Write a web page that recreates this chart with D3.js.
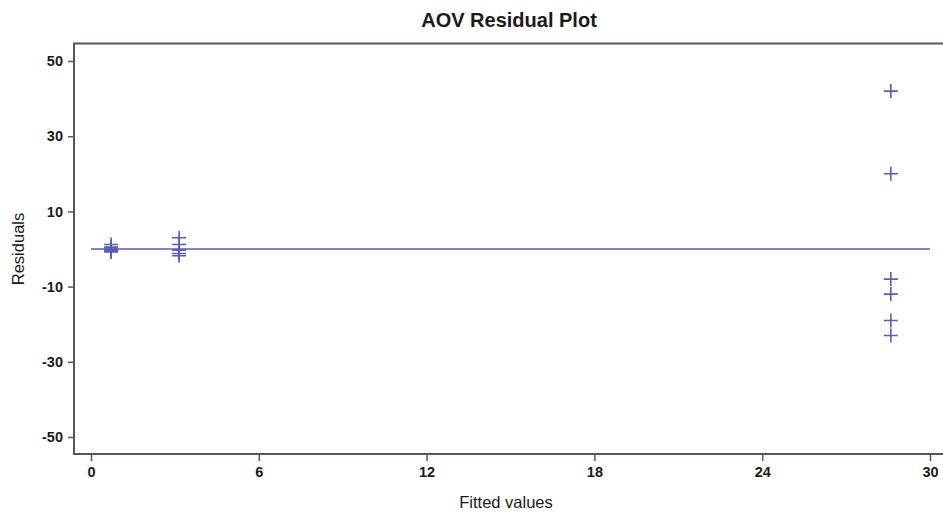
<!DOCTYPE html>
<html>
<head>
<meta charset="utf-8">
<script src="https://cdn.jsdelivr.net/npm/d3@7"></script>
<style>
  html, body { margin: 0; padding: 0; background: #fff; }
  svg { display: block; font-family: "Liberation Sans", Arial, sans-serif; }
</style>
</head>
<body>
<svg id="chart" width="943" height="516"></svg>
<script>
// Residuals from a one-way ANOVA, grouped by fitted (group mean) value
const fittedValues = [0.72, 3.15, 28.6];
const groupResiduals = [
  [1.2, 0.5, 0.0, -0.3, -0.6, -0.8],
  [3.0, 1.2, -0.3, -1.2, -1.8],
  [42, 20, -8, -12, -19, -23]
];
const xTicks = [0, 6, 12, 18, 24, 30];
const yTicks = [-50, -30, -10, 10, 30, 50];

const points = [];
fittedValues.forEach((f, i) => groupResiduals[i].forEach(r => points.push({ fitted: f, resid: r })));

const svg = d3.select("#chart");
const W = 943;
const frame = { left: 74, top: 43.5, bottom: 454 };

const x = d3.scaleLinear().domain([0, 30]).range([91, 930]);
const y = d3.scaleLinear().domain([-50, 50]).range([437, 61]);

const axisColor = "#5a5552";
const markColor = "#5b5bb0";
const textColor = "#1a1a1a";

// Title
svg.append("text")
  .attr("x", 509).attr("y", 27)
  .attr("text-anchor", "middle")
  .attr("font-size", 20).attr("font-weight", "bold")
  .attr("fill", textColor)
  .text("AOV Residual Plot");

// Frame: top, left, bottom edges
svg.append("path")
  .attr("d", `M${W},${frame.top}H${frame.left}V${frame.bottom}H${W}`)
  .attr("fill", "none")
  .attr("stroke", axisColor)
  .attr("stroke-width", 2);

// Plain hyphen for negative numbers
const fmt = d => String(d);

// Y axis
const yAxis = svg.append("g")
  .attr("transform", `translate(${frame.left},0)`)
  .call(d3.axisLeft(y).tickValues(yTicks).tickFormat(fmt).tickSize(6).tickPadding(5));
// X axis
const xAxis = svg.append("g")
  .attr("transform", `translate(0,${frame.bottom})`)
  .call(d3.axisBottom(x).tickValues(xTicks).tickFormat(fmt).tickSize(7).tickPadding(6));

[xAxis, yAxis].forEach(g => {
  g.select(".domain").remove();
  g.selectAll(".tick line").attr("stroke", axisColor).attr("stroke-width", 1.5);
  g.selectAll(".tick text")
    .attr("fill", textColor)
    .attr("font-size", 14.5)
    .attr("font-weight", "bold")
    .attr("font-family", "'Liberation Sans', Arial, sans-serif");
});

// Axis labels
svg.append("text")
  .attr("x", 506).attr("y", 508)
  .attr("text-anchor", "middle")
  .attr("font-size", 16.5)
  .attr("fill", textColor)
  .text("Fitted values");

svg.append("text")
  .attr("transform", `translate(24,${y(0)}) rotate(-90)`)
  .attr("text-anchor", "middle")
  .attr("font-size", 16.5)
  .attr("fill", textColor)
  .text("Residuals");

// Zero reference line
svg.append("line")
  .attr("x1", x(0)).attr("x2", x(30))
  .attr("y1", y(0)).attr("y2", y(0))
  .attr("stroke", markColor)
  .attr("stroke-width", 1.6);

// Plus markers
const arm = 7;
svg.append("g").selectAll("path")
  .data(points)
  .join("path")
  .attr("d", d => {
    const cx = x(d.fitted), cy = y(d.resid);
    return `M${cx - arm},${cy}H${cx + arm}M${cx},${cy - arm}V${cy + arm}`;
  })
  .attr("stroke", markColor)
  .attr("stroke-width", 1.6)
  .attr("fill", "none");
</script>
</body>
</html>
